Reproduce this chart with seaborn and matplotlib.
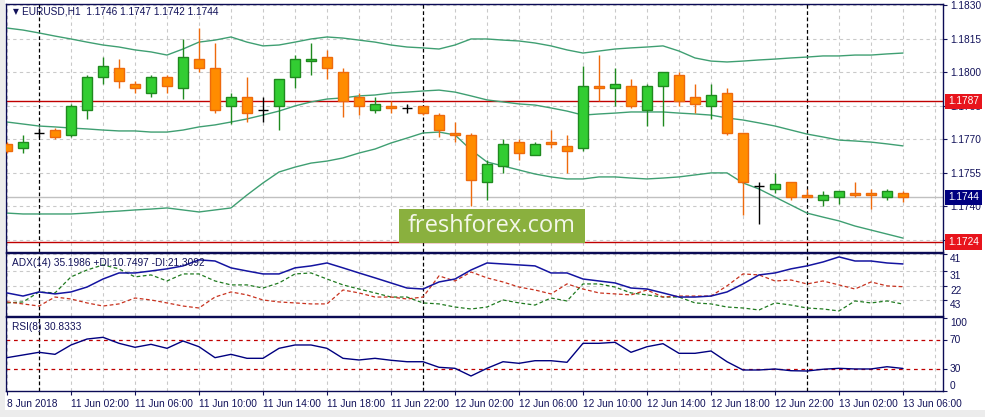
import numpy as np
import pandas as pd
import seaborn as sns
import matplotlib.pyplot as plt
from matplotlib.patches import Rectangle

# EURUSD H1 candles
opens = [1.1768, 1.1766, 1.1773, 1.1774, 1.1772, 1.1783, 1.1798, 1.1802, 1.1795, 1.1791,
         1.1798, 1.1793, 1.1806, 1.1802, 1.1785, 1.1789, 1.1783, 1.1785, 1.1798, 1.1805,
         1.1807, 1.1800, 1.1789, 1.1783, 1.1785, 1.1784, 1.1785, 1.1781, 1.1773, 1.1772,
         1.1751, 1.1758, 1.1769, 1.1763, 1.1769, 1.1767, 1.1766, 1.1794, 1.1793, 1.1794,
         1.1783, 1.1794, 1.1799, 1.1789, 1.1785, 1.1791, 1.1773, 1.1749, 1.1748, 1.1751,
         1.1745, 1.1743, 1.1744, 1.1746, 1.1746, 1.1744, 1.1746]
highs = [1.1769, 1.1772, 1.1775, 1.1775, 1.1786, 1.1799, 1.1807, 1.1806, 1.1796, 1.1799,
         1.1799, 1.1815, 1.1820, 1.1813, 1.1791, 1.1798, 1.1789, 1.1797, 1.1808, 1.1813,
         1.1810, 1.1802, 1.1791, 1.1789, 1.1787, 1.1786, 1.1785, 1.1782, 1.1778, 1.1773,
         1.1761, 1.1770, 1.1770, 1.1769, 1.1774, 1.1772, 1.1803, 1.1808, 1.1802, 1.1797,
         1.1795, 1.1800, 1.1800, 1.1795, 1.1795, 1.1793, 1.1773, 1.1751, 1.1755, 1.1751,
         1.1748, 1.1747, 1.1747, 1.1751, 1.1748, 1.1748, 1.1747]
lows = [1.1764, 1.1764, 1.1771, 1.1770, 1.1771, 1.1779, 1.1795, 1.1793, 1.1791, 1.1789,
        1.1791, 1.1788, 1.1800, 1.1782, 1.1777, 1.1778, 1.1778, 1.1774, 1.1793, 1.1799,
        1.1797, 1.1780, 1.1781, 1.1782, 1.1782, 1.1782, 1.1781, 1.1771, 1.1769, 1.1740,
        1.1743, 1.1755, 1.1761, 1.1763, 1.1766, 1.1755, 1.1765, 1.1787, 1.1785, 1.1784,
        1.1776, 1.1776, 1.1785, 1.1782, 1.1779, 1.1772, 1.1736, 1.1732, 1.1746, 1.1743,
        1.1744, 1.1740, 1.1741, 1.1744, 1.1739, 1.1743, 1.1742]
closes = [1.1765, 1.1769, 1.1773, 1.1771, 1.1785, 1.1798, 1.1803, 1.1796, 1.1793, 1.1798,
          1.1794, 1.1807, 1.1802, 1.1783, 1.1789, 1.1782, 1.1783, 1.1797, 1.1806, 1.1806,
          1.1802, 1.1787, 1.1785, 1.1786, 1.1784, 1.1784, 1.1782, 1.1774, 1.1772, 1.1752,
          1.1759, 1.1768, 1.1764, 1.1768, 1.1768, 1.1765, 1.1794, 1.1793, 1.1795, 1.1785,
          1.1794, 1.1800, 1.1787, 1.1786, 1.1790, 1.1773, 1.1751, 1.1749, 1.1750, 1.1744,
          1.1744, 1.1745, 1.1747, 1.1745, 1.1745, 1.1747, 1.1744]

# Bollinger bands
bb_upper = [1.18199, 1.18190, 1.18177, 1.18163, 1.18150, 1.18136, 1.18123, 1.18114, 1.18101, 1.18092,
            1.18078, 1.18105, 1.18136, 1.18145, 1.18159, 1.18136, 1.18119, 1.18123, 1.18136, 1.18150,
            1.18159, 1.18154, 1.18145, 1.18136, 1.18123, 1.18114, 1.18110, 1.18105, 1.18123, 1.18150,
            1.18150, 1.18145, 1.18141, 1.18132, 1.18119, 1.18101, 1.18087, 1.18096, 1.18105, 1.18110,
            1.18114, 1.18119, 1.18096, 1.18065, 1.18051, 1.18047, 1.18051, 1.18056, 1.18060, 1.18065,
            1.18069, 1.18074, 1.18074, 1.18078, 1.18078, 1.18083, 1.18087]
bb_middle = [1.17778, 1.17769, 1.17760, 1.17756, 1.17751, 1.17747, 1.17742, 1.17738, 1.17738, 1.17733,
             1.17733, 1.17742, 1.17756, 1.17765, 1.17778, 1.17792, 1.17809, 1.17827, 1.17850, 1.17868,
             1.17881, 1.17886, 1.17895, 1.17899, 1.17908, 1.17912, 1.17917, 1.17921, 1.17912, 1.17895,
             1.17877, 1.17868, 1.17859, 1.17854, 1.17841, 1.17827, 1.17809, 1.17814, 1.17818, 1.17823,
             1.17823, 1.17823, 1.17818, 1.17814, 1.17809, 1.17796, 1.17787, 1.17774, 1.17760, 1.17742,
             1.17724, 1.17711, 1.17697, 1.17693, 1.17688, 1.17680, 1.17671]
bb_lower = [1.17370, 1.17366, 1.17366, 1.17366, 1.17366, 1.17370, 1.17375, 1.17379, 1.17384, 1.17388,
            1.17393, 1.17384, 1.17375, 1.17384, 1.17393, 1.17451, 1.17505, 1.17554, 1.17576, 1.17594,
            1.17603, 1.17617, 1.17639, 1.17657, 1.17684, 1.17706, 1.17729, 1.17733, 1.17720, 1.17653,
            1.17599, 1.17581, 1.17563, 1.17545, 1.17532, 1.17523, 1.17523, 1.17532, 1.17532, 1.17527,
            1.17523, 1.17527, 1.17532, 1.17541, 1.17550, 1.17550, 1.17505, 1.17478, 1.17442, 1.17406,
            1.17370, 1.17352, 1.17335, 1.17312, 1.17294, 1.17276, 1.17258]

# ADX(14)
adx = [17.5, 15.6, 18.1, 16.9, 18.1, 21.1, 26.0, 29.7, 29.7, 30.9,
       32.2, 34.0, 37.7, 37.0, 32.8, 30.9, 29.1, 29.1, 32.8, 34.0,
       35.8, 32.8, 29.7, 26.7, 23.6, 20.5, 19.9, 24.2, 26.0, 31.5,
       35.8, 35.2, 34.6, 34.0, 29.7, 29.7, 26.0, 24.8, 23.6, 20.5,
       19.9, 17.5, 15.0, 15.0, 15.6, 18.1, 23.0, 28.5, 29.7, 32.2,
       34.0, 36.4, 39.5, 37.0, 37.0, 35.8, 35.2]
plus_di = [11.4, 12.0, 18.1, 17.5, 27.3, 31.5, 34.6, 32.2, 27.3, 28.5,
           24.8, 29.1, 29.1, 24.8, 22.4, 22.4, 20.5, 23.6, 29.1, 29.7,
           26.0, 22.4, 19.9, 17.5, 15.0, 15.0, 11.4, 10.8, 8.9, 7.7,
           8.9, 13.2, 11.4, 10.1, 14.4, 12.6, 23.0, 23.0, 21.1, 17.5,
           16.3, 15.0, 15.0, 11.4, 10.8, 8.9, 8.3, 7.1, 11.4, 10.1,
           8.3, 7.7, 6.5, 12.6, 11.4, 12.6, 10.7]
minus_di = [12.0, 10.8, 9.5, 15.0, 13.8, 11.4, 9.5, 10.8, 14.4, 13.2,
            11.4, 9.5, 8.3, 15.0, 18.1, 16.3, 13.2, 12.0, 11.4, 10.8,
            10.8, 19.3, 17.5, 15.0, 15.0, 13.8, 15.0, 27.9, 24.8, 30.3,
            26.7, 24.2, 21.1, 19.3, 16.9, 23.0, 19.9, 17.5, 16.9, 16.3,
            19.3, 15.0, 15.6, 15.6, 15.6, 21.8, 29.1, 28.5, 24.8, 25.4,
            23.0, 24.8, 22.4, 19.9, 24.2, 21.8, 21.3]

# RSI(8)
rsi = [45.7, 49.4, 53.1, 50.3, 63.2, 71.4, 73.8, 65.5, 60.0, 64.1,
       58.6, 68.7, 60.8, 45.7, 50.3, 44.8, 44.8, 58.6, 63.2, 63.2,
       58.6, 44.8, 42.5, 44.8, 42.1, 40.1, 40.1, 32.4, 31.0, 20.4,
       31.0, 40.1, 37.9, 41.5, 41.5, 39.3, 65.5, 65.5, 66.9, 53.1,
       60.8, 65.0, 51.7, 51.7, 54.9, 40.1, 28.7, 28.7, 30.1, 27.7,
       27.3, 29.7, 31.0, 30.1, 30.1, 33.2, 30.8]

time_labels = ["8 Jun 2018", "11 Jun 02:00", "11 Jun 06:00", "11 Jun 10:00", "11 Jun 14:00",
               "11 Jun 18:00", "11 Jun 22:00", "12 Jun 02:00", "12 Jun 06:00", "12 Jun 10:00",
               "12 Jun 14:00", "12 Jun 18:00", "12 Jun 22:00", "13 Jun 02:00", "13 Jun 06:00"]
price_ticks = [1.1830, 1.1815, 1.1800, 1.1785, 1.1770, 1.1755, 1.1740, 1.1725]
level_lines = [1.1787, 1.1724]
last_price = 1.1744
day_breaks = [2, 26, 50]
adx_ticks = [41, 31, 22, 13]
adx_tick_labels = ["41", "31", "22", "43"]
rsi_ticks = [100, 70, 30, 0]
rsi_levels = [70, 30]

df = pd.DataFrame({"bar": np.arange(len(opens)), "open": opens, "high": highs,
                   "low": lows, "close": closes, "upper": bb_upper, "middle": bb_middle,
                   "lower": bb_lower, "adx": adx, "pdi": plus_di, "mdi": minus_di, "rsi": rsi})

sns.set_style("white")
plt.rcParams["font.family"] = ["Liberation Sans", "DejaVu Sans"]

W, H = 985, 417
fig = plt.figure(figsize=(W / 100, H / 100), dpi=100)
fig.patch.set_facecolor("white")


def px_axes(x0, y0, x1, y1, **kw):
    return fig.add_axes([x0 / W, 1 - y1 / H, (x1 - x0) / W, (y1 - y0) / H], **kw)


ax = px_axes(6, 4, 943, 251.7)
ax_adx = px_axes(6, 253.3, 943, 315.7, sharex=ax)
ax_rsi = px_axes(6, 317.3, 943, 391, sharex=ax)

navy = "#12125a"
grid_c = "#c9c9c9"
dash = (0, (3, 3))

for a in (ax, ax_adx, ax_rsi):
    a.set_facecolor("white")
    for s in a.spines.values():
        s.set_color("#0b0b55")
        s.set_linewidth(1.0)
    a.yaxis.tick_right()
    a.tick_params(axis="y", direction="out", length=3, width=0.8, color=navy,
                  labelcolor=navy, labelsize=7.3, pad=2)
    for b in range(0, 59, 2):
        if b in day_breaks:
            a.axvline(b, color="black", lw=0.9, ls=(0, (3, 2)), zorder=1)
        else:
            a.axvline(b, color=grid_c, lw=0.8, ls=dash, zorder=0)

ax.set_xlim(-0.0625, 58.5)

# main price panel
ax.set_ylim(1.17197, 1.183067)
ax.set_yticks(price_ticks)
ax.set_yticklabels([f"{p:.4f}" for p in price_ticks[:-1]] + [""])
for p in price_ticks:
    ax.axhline(p, color=grid_c, lw=0.8, ls=dash, zorder=0)
ax.tick_params(axis="x", bottom=False, labelbottom=False)

ax.axhline(last_price, color="#c0c0c0", lw=1, zorder=1)
for lv in level_lines:
    ax.axhline(lv, color="#c00000", lw=1, zorder=2)

band_c = "#3f9f72"
for col in ["upper", "middle", "lower"]:
    sns.lineplot(data=df, x="bar", y=col, ax=ax, color=band_c, linewidth=1, zorder=2)

up = df[df.close > df.open]
down = df[df.close < df.open]
flat = df[df.close == df.open]
bw = 0.62
ax.vlines(up.bar, up.low, up.high, color="#1f8a1f", lw=1, zorder=3)
ax.bar(up.bar, up.close - up.open, bottom=up.open, width=bw, color="#32cd32",
       edgecolor="#1f8a1f", linewidth=1, zorder=4)
ax.vlines(down.bar, down.low, down.high, color="#ee6a0c", lw=1, zorder=3)
ax.bar(down.bar, down.open - down.close, bottom=down.close, width=bw, color="#ff8c00",
       edgecolor="#ee6a0c", linewidth=1, zorder=4)
ax.vlines(flat.bar, flat.low, flat.high, color="black", lw=1, zorder=4)
ax.hlines(flat.open, flat.bar - bw / 2, flat.bar + bw / 2, color="black", lw=1, zorder=4)

ax.set_xlabel("")
ax.set_ylabel("")

ytr = ax.get_yaxis_transform()
for val, fc in [(level_lines[0], "#e8141c"), (last_price, "#000080"), (level_lines[1], "#e8141c")]:
    ax.text(1.0055, val, f"{val:.4f}", transform=ytr, ha="left", va="center", fontsize=7.3,
            color="white", zorder=10,
            bbox=dict(boxstyle="square,pad=0.28", fc=fc, ec="none"))

ax.text(0.0075, 0.968, "\u25bc", transform=ax.transAxes, fontsize=5.5, color=navy,
        va="center", ha="left", family=["DejaVu Sans"])
ax.text(0.017, 0.968, "EURUSD,H1  1.1746 1.1747 1.1742 1.1744", transform=ax.transAxes,
        fontsize=7.3, color=navy, va="center", ha="left")

# ADX panel
ax_adx.set_ylim(3.6, 41.7)
ax_adx.set_yticks(adx_ticks)
ax_adx.set_yticklabels(adx_tick_labels, va="top")
for t in adx_ticks:
    ax_adx.axhline(t, color=grid_c, lw=0.8, ls=dash, zorder=0)
sns.lineplot(data=df, x="bar", y="pdi", ax=ax_adx, color="#1f7a1f", linewidth=0.9,
             linestyle=(0, (3, 2)), zorder=2)
sns.lineplot(data=df, x="bar", y="mdi", ax=ax_adx, color="#c8321e", linewidth=0.9,
             linestyle=(0, (3, 2)), zorder=2)
sns.lineplot(data=df, x="bar", y="adx", ax=ax_adx, color="#1414a0", linewidth=1.1, zorder=3)
ax_adx.set_xlabel("")
ax_adx.set_ylabel("")
ax_adx.tick_params(axis="x", bottom=False, labelbottom=False)
ax_adx.text(0.0064, 0.85, "ADX(14) 35.1986 +DI:10.7497 -DI:21.3092", transform=ax_adx.transAxes,
            fontsize=7.3, color=navy, va="center", ha="left")

# RSI panel
ax_rsi.set_ylim(-0.3, 101.4)
ax_rsi.set_yticks(rsi_ticks)
ax_rsi.set_yticklabels([str(t) for t in rsi_ticks])
for lab, va in zip(ax_rsi.get_yticklabels(), ["top", "center", "center", "bottom"]):
    lab.set_va(va)
for lv in rsi_levels:
    ax_rsi.axhline(lv, color="#c00000", lw=0.9, ls=dash, zorder=1)
sns.lineplot(data=df, x="bar", y="rsi", ax=ax_rsi, color="#000080", linewidth=1, zorder=3)
ax_rsi.set_xlabel("")
ax_rsi.set_ylabel("")
ax_rsi.set_xticks(range(0, 57, 4))
ax_rsi.set_xticklabels(time_labels, ha="left")
ax_rsi.tick_params(axis="x", direction="out", length=3, width=0.8, color=navy,
                   labelcolor=navy, labelsize=7.3, pad=2.5, bottom=True, labelbottom=True)
ax_rsi.text(0.0064, 0.872, "RSI(8) 30.8333", transform=ax_rsi.transAxes,
            fontsize=7.3, color=navy, va="center", ha="left")

# window frame bits
fig.patches.append(Rectangle((0, 0), 4.5 / W, 1, transform=fig.transFigure,
                             fc="#ececec", ec="none", zorder=-1))
fig.patches.append(Rectangle((0, 0), 1, 7 / H, transform=fig.transFigure,
                             fc="#ececec", ec="none", zorder=-1))

# watermark
fig.patches.append(Rectangle((399 / W, 1 - 243 / H), 186 / W, 34 / H, transform=fig.transFigure,
                             fc="#8ab03e", ec="none", zorder=5))
fig.text(492 / W, 1 - 226.5 / H, "freshforex.com", ha="center", va="center", fontsize=17,
         color="#f4f7ea", family=["Open Sans", "DejaVu Sans"], zorder=6)

fig.savefig("out.png", dpi=100)
